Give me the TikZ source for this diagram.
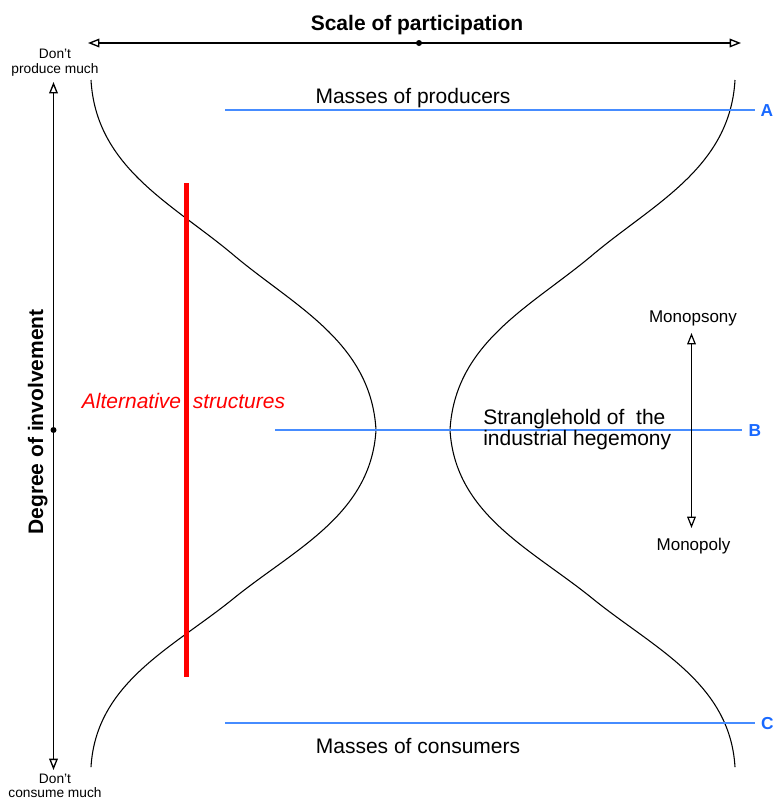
\documentclass[tikz,border=0pt]{standalone}
\usepackage{fontspec}
\setmainfont{Liberation Sans}
\usetikzlibrary{arrows.meta}
\definecolor{bluel}{RGB}{70,140,255}
\definecolor{bluet}{RGB}{25,105,255}
\begin{document}
\begin{tikzpicture}[x=0.75pt,y=-0.75pt,
  >={Triangle[open,length=8.5pt,width=6.5pt]},
  big/.style={font=\fontsize{15.75}{15.75}\selectfont, inner sep=0pt},
  bigbold/.style={font=\fontsize{15.75}{15.75}\selectfont\bfseries, inner sep=0pt},
  small/.style={font=\fontsize{10.3}{10.8}\selectfont, inner sep=0pt, align=center},
  mid/.style={font=\fontsize{12.75}{14}\selectfont, inner sep=0pt},
  letter/.style={font=\fontsize{13}{13}\selectfont\bfseries, text=bluet, inner sep=0pt},
  axis/.style={line width=1pt, <->},
  curve/.style={line width=0.8pt},
  blueline/.style={line width=0.9pt, draw=bluel},
  dot/.style={circle, fill=black, inner sep=0pt, minimum size=4.5pt}]
\useasboundingbox (0,0) rectangle (774,800);

% top axis
\coordinate (hl) at (88,43);
\coordinate (hr) at (741,43);
\draw[axis] (hl) -- (hr);
\node[dot] (hmid) at (419,43) {};
\node[bigbold, anchor=base] (scale) at (417,30) {Scale of participation};

% left axis
\coordinate (vt) at (53.5,82);
\coordinate (vb) at (53.5,770);
\draw[axis] (vb) -- (vt);
\node[dot] (vmid) at (53.5,430) {};
\node[bigbold, rotate=90, anchor=base] (deg) at (43,422) {Degree of involvement};
\node[small, anchor=base] (dp) at (55,73) {Don't\\produce much};
\node[small, anchor=base] (dc) at (55,797.5) {Don't\\consume much};

% hourglass curves
\foreach \sx/\sy/\cx in {1/1/376, 1/-0.963/376, -1/1/450, -1/-0.963/450} {
  \begin{scope}[shift={(\cx,430)}, xscale=\sx, yscale=\sy]
    \draw[curve] (-285,-350) .. controls (-280,-262) and (-203,-226) .. (-142.5,-175)
       .. controls (-82,-124) and (-5,-88) .. (0,0);
  \end{scope}
}

% blue lines
\coordinate (a1) at (225,110);
\coordinate (a2) at (755,110);
\draw[blueline] (a1) -- (a2);
\node[letter, anchor=base] (A) at (767,116.5) {A};
\coordinate (b1) at (275,430);
\coordinate (b2) at (742,430);
\draw[blueline] (b1) -- (b2);
\node[letter, anchor=base] (B) at (755,436) {B};
\coordinate (c1) at (225,723);
\coordinate (c2) at (755,723);
\draw[blueline] (c1) -- (c2);
\node[letter, anchor=base] (C) at (767.5,729.5) {C};

\node[big, anchor=base] (prod) at (413,103) {Masses of producers};
\node[big, anchor=base] (cons) at (418,753) {Masses of consumers};
\node[big, anchor=base west, align=left] (strang) at (483,445) {Stranglehold of\ \ the\\industrial hegemony};

% red line
\coordinate (r1) at (186.5,183);
\coordinate (r2) at (186.5,677);
\draw[red, line width=3.75pt] (r1) -- (r2);
\node[big, anchor=base, text=red, font=\fontsize{15.75}{15.75}\selectfont\itshape] (alt) at (183.5,408) {Alternative\ \ structures};

% monopsony / monopoly
\coordinate (mt) at (691.5,333);
\coordinate (mb) at (691.5,528);
\draw[axis, line width=0.9pt] (mb) -- (mt);
\node[mid, anchor=base] (mps) at (693,322) {Monopsony};
\node[mid, anchor=base] (mpl) at (693.5,550) {Monopoly};
\end{tikzpicture}
\end{document}
